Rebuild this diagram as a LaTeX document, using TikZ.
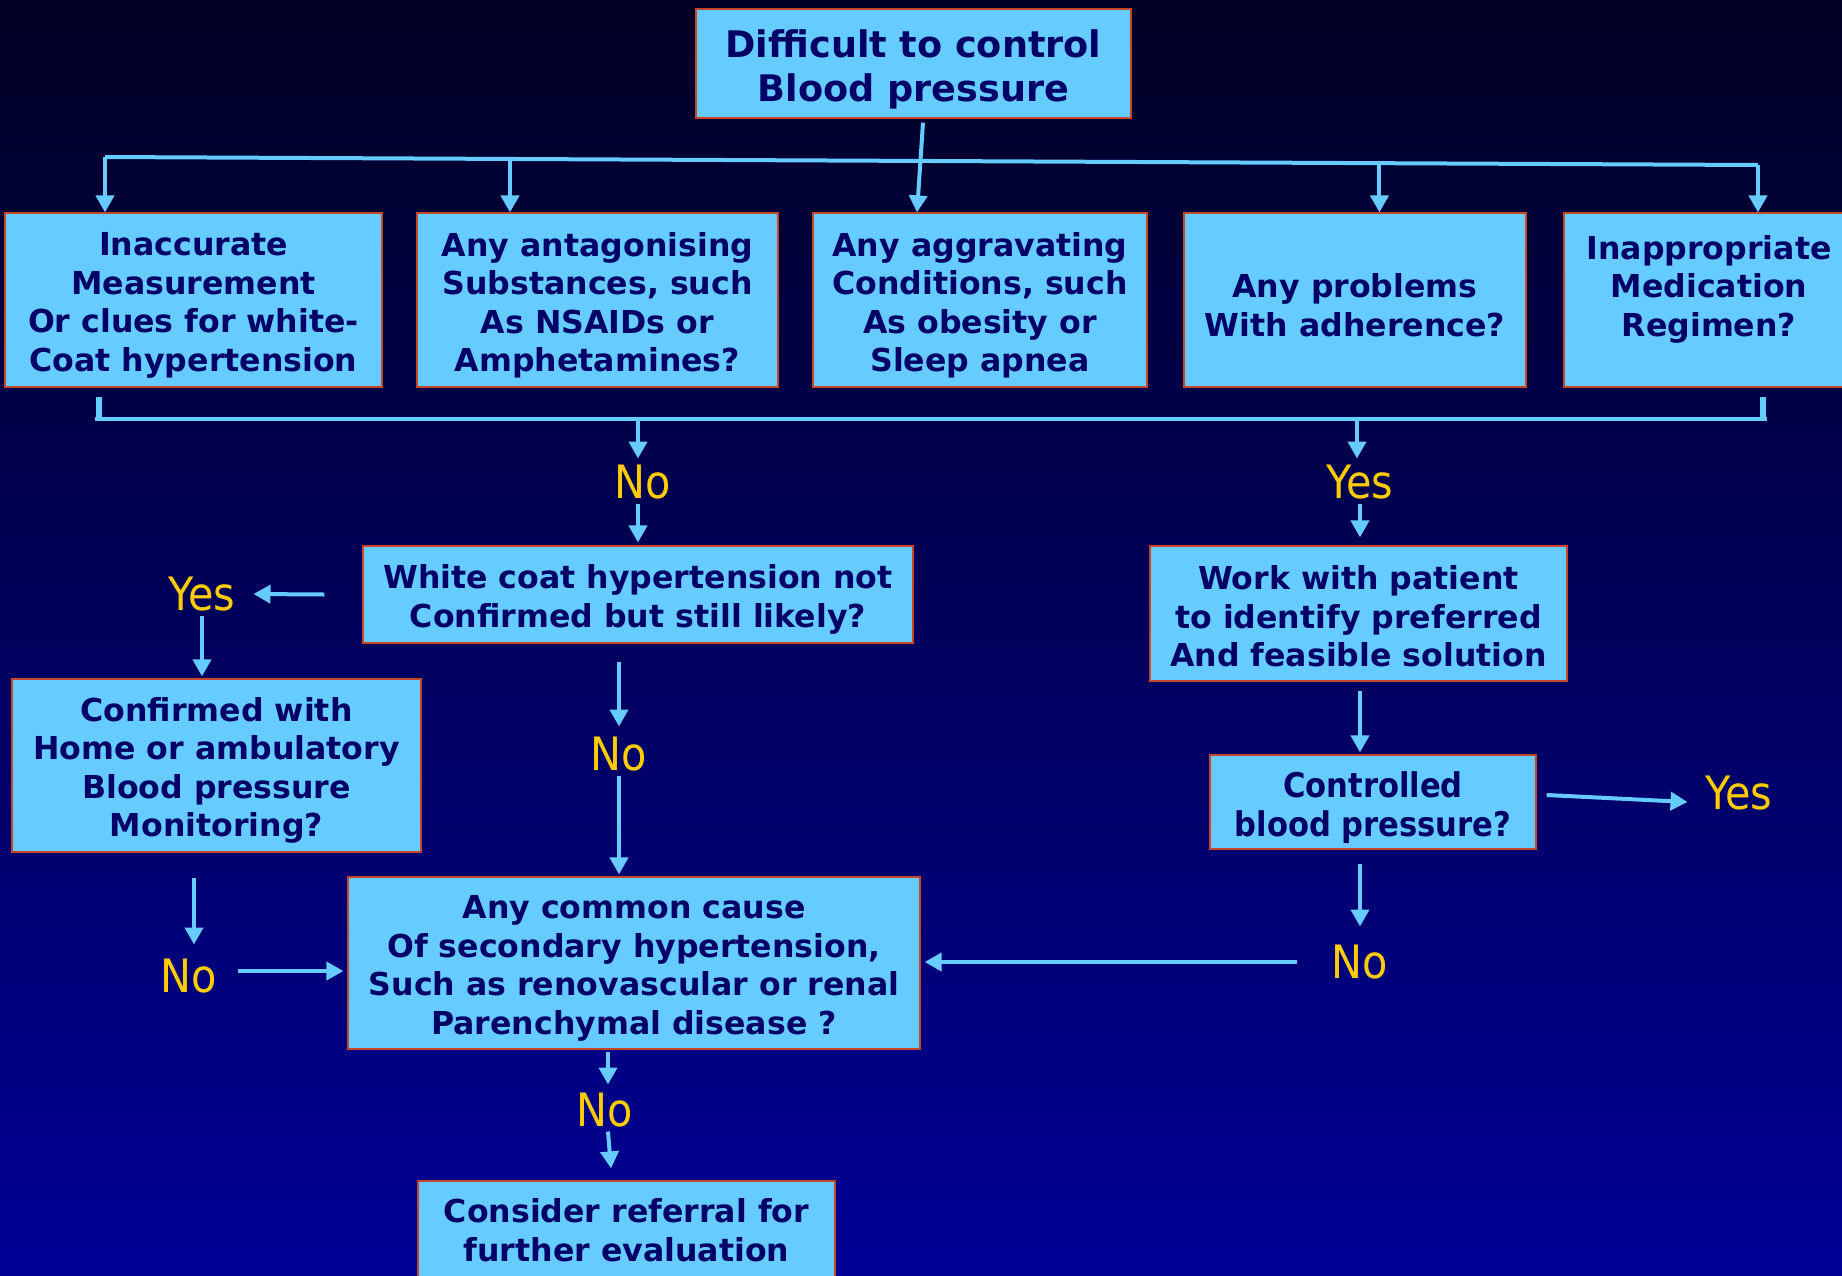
\documentclass[tikz,border=0pt]{standalone}
\usepackage{fontspec}
\setmainfont{DejaVu Sans}
\newfontfamily\condfont{DejaVu Sans Condensed}
\usetikzlibrary{arrows.meta,calc}
\definecolor{bgtop}{RGB}{0,0,35}
\definecolor{bgbot}{RGB}{0,0,150}
\definecolor{boxfill}{RGB}{102,204,255}
\definecolor{boxline}{RGB}{200,70,40}
\definecolor{txt}{RGB}{0,0,102}
\definecolor{lbl}{RGB}{255,204,0}
\newcommand\tp[1][1.08em]{\rule{0pt}{#1}}
\begin{document}
\begin{tikzpicture}[x=0.5pt,y=-0.5pt,
  box/.style={draw=boxline,line width=0.6pt,fill=boxfill,text=txt,align=center,
    inner sep=0pt,font=\fontsize{15.8}{19.25}\selectfont\bfseries},
  lab/.style={text=lbl,inner sep=2pt,font=\condfont\fontsize{23}{26}\selectfont},
  conn/.style={draw=boxfill,line width=2pt},
  arr/.style={conn,-{Triangle[width=9pt,length=8.5pt]}},
  tick/.style={draw=boxfill,line width=2.6pt}]
\useasboundingbox (0,0) rectangle (1842,1275);
\clip (0,0) rectangle (1842,1275);
\fill[top color=bgtop,bottom color=bgbot] (0,0) rectangle (1842,1275);

% nodes
\node[box,minimum width=217.5pt,minimum height=54.5pt,
  font=\fontsize{18.3}{22.3}\selectfont\bfseries] (top) at (913.5,63.5) {\tp Difficult to control\\Blood pressure};
\node[box,minimum width=188.5pt,minimum height=87pt] (b1) at (193.5,300) {\tp Inaccurate\\Measurement\\Or clues for white-\\Coat hypertension};
\node[box,minimum width=180.5pt,minimum height=87pt] (b2) at (597.5,300) {\tp Any antagonising\\Substances, such\\As NSAIDs or\\Amphetamines?};
\node[box,minimum width=167pt,minimum height=87pt] (b3) at (980,300) {\tp Any aggravating\\Conditions, such\\As obesity or\\Sleep apnea};
\node[box,minimum width=171pt,minimum height=87pt] (b4) at (1355,300) {\tp Any problems\\With adherence?};
\node[box,minimum width=145pt,minimum height=87pt] (b5) at (1709,300) {\tp Inappropriate\\Medication\\Regimen?\\~};

\node[box,minimum width=275pt,minimum height=48.5pt] (wc) at (638,594.5) {\tp White coat hypertension not\\Confirmed but still likely?};
\node[box,minimum width=204.5pt,minimum height=86.5pt] (conf) at (216.5,765.5) {\tp Confirmed with\\Home or ambulatory\\Blood pressure\\Monitoring?};
\node[box,minimum width=286pt,minimum height=86pt] (sec) at (634,963) {\tp Any common cause\\Of secondary hypertension,\\Such as renovascular or renal\\Parenchymal disease ?};
\node[box,minimum width=208.5pt,minimum height=49pt] (fin) at (626.5,1230) {Consider referral for\\further evaluation};
\node[box,minimum width=208.5pt,minimum height=67.5pt] (work) at (1358.5,613.5) {\tp[0.95em]Work with patient\\to identify preferred\\And feasible solution};
\node[box,minimum width=163pt,minimum height=47pt,
  font=\condfont\fontsize{17}{19.3}\selectfont\bfseries] (ctrl) at (1373,802) {\tp Controlled\\blood pressure?};

\node[lab] (noA) at (643,482) {No};
\node[lab] (yesA) at (1360,482) {Yes};
\node[lab] (yesB) at (202,594) {Yes};
\node[lab] (noB) at (189,976) {No};
\node[lab] (noC) at (619,754) {No};
\node[lab] (noD) at (605,1110) {No};
\node[lab] (yesE) at (1739,793) {Yes};
\node[lab] (noE) at (1360,962) {No};

% top distribution
\coordinate (hl) at (105,157);
\coordinate (hr) at (1758,165);
\coordinate (d2) at ($(hl)!0.245!(hr)$);
\coordinate (d4) at ($(hl)!0.771!(hr)$);
\draw[conn] (hl) -- (hr);
\draw[arr] (hl) -- (hl |- b1.north);
\draw[arr] (d2) -- (d2 |- b2.north);
\draw[arr] (d4) -- (d4 |- b4.north);
\draw[arr] (hr) -- (hr |- b5.north);
\draw[arr] ($(top.south)+(9.5,4)$) -- ($(b3.north)+(-63,0)$);

% bottom bracket
\coordinate (bl) at (95,419);
\coordinate (br) at (1767,419);
\draw[conn] (bl) -- (br);
\draw[tick] ($(bl)+(4,-22)$) -- ($(bl)+(4,-2)$);
\draw[tick] ($(br)+(-4,-22)$) -- ($(br)+(-4,-2)$);
\draw[arr] ($(noA |- bl)+(-5,2)$) -- ($(noA.north)+(-5,-2)$);
\draw[arr] ($(yesA |- bl)+(-3,2)$) -- ($(yesA.north)+(-3,-2)$);
\draw[arr] ($(noA.south)+(-5,0)$) -- ($(noA.south |- wc.north)+(-5,-3)$);
\draw[arr] (yesA.south) -- ($(yesA.south |- work.north)+(0,-8)$);

% left branch
\draw[arr] ($(wc.west)+(-38,0)$) -- ($(yesB.east)+(14,0)$);
\draw[arr] (yesB.south) -- ($(yesB.south |- conf.north)+(0,-2)$);
\draw[arr] ($(conf.south -| noB)+(5,25)$) -- ($(noB.north)+(5,-10)$);
\draw[arr] ($(noB.east)+(16,-5)$) -- ($(noB.east -| sec.west)+(-4,-5)$);

% middle branch
\draw[arr] ($(wc.south -| noC)+(0,18)$) -- ($(noC.north)+(0,-6)$);
\draw[arr] (noC.south) -- ($(noC.south |- sec.north)+(0,-2)$);
\draw[arr] ($(sec.south -| noD)+(3,2)$) -- ($(noD.north)+(3,-4)$);
\draw[arr] ($(noD.south)+(3,0)$) -- ($(fin.north -| noD)+(6,-12)$);

% right branch
\draw[arr] ($(work.south)+(1.5,9)$) -- ($(work.south |- ctrl.north)+(1.5,-2)$);
\draw[arr] ($(ctrl.east)+(10,-7)$) -- ($(yesE.west)+(-14,9)$);
\draw[arr] ($(ctrl.south -| noE)+(0,14)$) -- ($(noE.north)+(0,-14)$);
\draw[arr] ($(noE.west)+(-30,0)$) -- ($(sec.east |- noE)+(4,0)$);
\end{tikzpicture}
\end{document}
